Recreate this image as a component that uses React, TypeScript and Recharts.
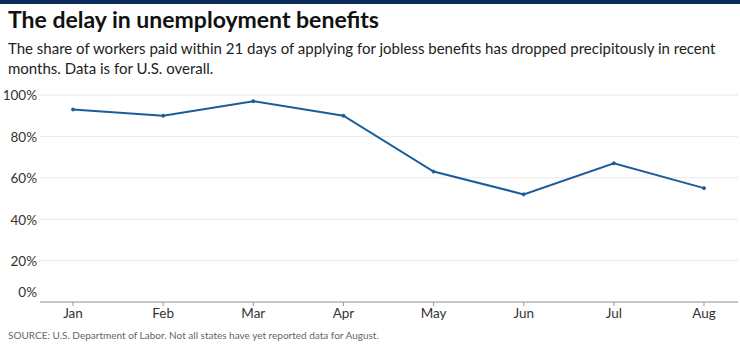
import { LineChart, Line, XAxis, YAxis, CartesianGrid } from "recharts";

const months = ["Jan", "Feb", "Mar", "Apr", "May", "Jun", "Jul", "Aug"];
const paidShare = [93, 90, 97, 90, 63, 52, 67, 55];
const yTicks = [0, 20, 40, 60, 80, 100];

const data = months.map((m, i) => ({ month: m, share: paidShare[i] }));

const font = "Lato, 'Open Sans', sans-serif";

function YTick(props: any) {
  const { x, y, payload } = props;
  const shift = payload.value === 0 ? -8 : 2;
  return (
    <text x={x + 5} y={y + shift} textAnchor="end" dominantBaseline="middle" fontSize={13.5} fill="#333" fontFamily={font}>
      {payload.value}%
    </text>
  );
}

export default function App() {
  return (
    <div style={{ position: "absolute", left: 0, top: 0, width: 740, height: 351, background: "#fff", fontFamily: font, overflow: "hidden" }}>
      <div style={{ position: "absolute", left: 0, top: 0, width: 740, height: 4, background: "#0b2b5b" }} />
      <div style={{ position: "absolute", left: 8, top: 5, fontSize: 23, fontWeight: 700, color: "#111", whiteSpace: "nowrap" }}>
        The delay in unemployment benefits
      </div>
      <div style={{ position: "absolute", left: 8, top: 38, width: 725, fontSize: 15, lineHeight: "20px", color: "#222" }}>
        The share of workers paid within 21 days of applying for jobless benefits has dropped precipitously in recent months. Data is for U.S. overall.
      </div>
      <div style={{ position: "absolute", left: 0, top: 85 }}>
        <LineChart width={740} height={240} data={data} margin={{ top: 10, right: 2, bottom: 0, left: 0 }}>
          <CartesianGrid vertical={false} stroke="#e8e8e8" />
          <XAxis
            dataKey="month"
            height={23}
            padding={{ left: 33, right: 34 }}
            tick={{ fontSize: 13.5, fill: "#333", fontFamily: font }}
            tickLine={{ stroke: "#999" }}
            tickSize={4}
            axisLine={{ stroke: "#999" }}
            interval={0}
          />
          <YAxis
            width={40}
            domain={[0, 100]}
            ticks={yTicks}
            tick={<YTick />}
            tickLine={false}
            axisLine={false}
          />
          <Line
            type="linear"
            dataKey="share"
            stroke="#1c5d99"
            strokeWidth={2}
            dot={{ r: 1.5, fill: "#1c5d99", stroke: "#1c5d99", strokeWidth: 1 }}
            isAnimationActive={false}
          />
        </LineChart>
      </div>
      <div style={{ position: "absolute", left: 8, top: 329, fontSize: 10, color: "#666", whiteSpace: "nowrap" }}>
        SOURCE: U.S. Department of Labor. Not all states have yet reported data for August.
      </div>
    </div>
  );
}
